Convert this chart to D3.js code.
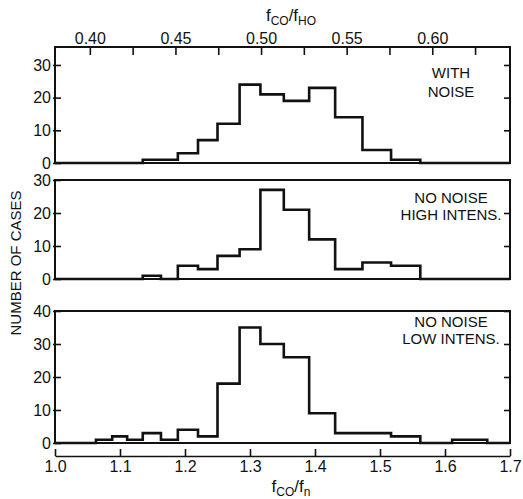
<!DOCTYPE html>
<html>
<head>
<meta charset="utf-8">
<script src="https://cdn.jsdelivr.net/npm/d3@7"></script>
<style>
  html, body { margin: 0; padding: 0; background: #fff; }
  svg { display: block; }
  text { font-family: "Liberation Sans", Arial, sans-serif; fill: #111; }
</style>
</head>
<body>
<svg id="chart" width="523" height="499"></svg>
<script>
// Histogram bin edges, in units of fco/fn (bottom axis)
const binEdges = [1.063, 1.088, 1.111, 1.135, 1.163, 1.189, 1.220, 1.250, 1.284,
                  1.316, 1.352, 1.391, 1.431, 1.473, 1.517, 1.562, 1.611, 1.665];

// Number of cases per bin for each condition
const withNoise      = [0, 0, 0, 1, 1, 3, 7, 12, 24, 21, 19, 23, 14, 4, 1, 0, 0];
const noNoiseHigh    = [0, 0, 0, 1, 0, 4, 3, 7, 9, 27, 21, 12, 3, 5, 4, 0, 0];
const noNoiseLow     = [1, 2, 1, 3, 1, 4, 2, 18, 35, 30, 26, 9, 3, 3, 2, 0, 1];

const panelLabels = [["WITH", "NOISE"], ["NO NOISE", "HIGH INTENS."], ["NO NOISE", "LOW INTENS."]];
const leftTicks   = [[0, 10, 20, 30], [0, 10, 20, 30], [0, 10, 20, 30, 40]];
const rightTicks  = [[10, 20, 30], [10, 20], [10, 20, 30, 40]];
const yMax        = [35.5, 30, 40];

const bottomTicks = [1.0, 1.1, 1.2, 1.3, 1.4, 1.5, 1.6, 1.7];
const topMajor    = [0.40, 0.45, 0.50, 0.55, 0.60];
const topMinor    = [0.425, 0.475, 0.525, 0.575, 0.625];
const fcoRatio    = 2.634; // fco/fn divided by fco/fH0

const svg = d3.select("#chart");
const left = 55, right = 510;
const FONT = "Liberation Sans, Arial, sans-serif";

const x = d3.scaleLinear().domain([1.0, 1.7]).range([left, right]);
const xTop = d3.scaleLinear().domain([1.0 / fcoRatio, 1.7 / fcoRatio]).range([left, right]);

const panels = [
  { data: withNoise,   top: 47,  bottom: 163 },
  { data: noNoiseHigh, top: 180, bottom: 279 },
  { data: noNoiseLow,  top: 311, bottom: 443 }
];

panels.forEach((p, i) => {
  const y = d3.scaleLinear().domain([0, yMax[i]]).range([p.bottom, p.top]);
  const g = svg.append("g");

  // frame
  g.append("rect")
    .attr("x", left).attr("y", p.top)
    .attr("width", right - left).attr("height", p.bottom - p.top)
    .attr("fill", "none").attr("stroke", "#111").attr("stroke-width", 2);

  // left axis: labels outside, ticks crossing the frame
  const ax = g.append("g").attr("transform", `translate(${left},0)`)
    .call(d3.axisLeft(y).tickValues(leftTicks[i]).tickSizeInner(-6).tickSizeOuter(0).tickPadding(4));
  ax.select(".domain").remove();
  ax.selectAll(".tick line").attr("x1", -2).attr("stroke", "#111").attr("stroke-width", 1.6);
  ax.selectAll(".tick text").attr("font-size", 16).attr("font-family", FONT).attr("fill", "#111");

  // right-side inward ticks
  const axr = g.append("g").attr("transform", `translate(${right},0)`)
    .call(d3.axisRight(y).tickValues(rightTicks[i]).tickSizeInner(-6).tickSizeOuter(0).tickFormat(""));
  axr.select(".domain").remove();
  axr.selectAll(".tick line").attr("stroke", "#111").attr("stroke-width", 1.6);

  // histogram outline as a stepped line
  const path = d3.path();
  let prev = 0;
  path.moveTo(x(1.0), y(0));
  p.data.forEach((v, k) => {
    path.lineTo(x(binEdges[k]), y(prev));
    path.lineTo(x(binEdges[k]), y(v));
    prev = v;
  });
  const lastEdge = binEdges[binEdges.length - 1];
  path.lineTo(x(lastEdge), y(prev));
  path.lineTo(x(lastEdge), y(0));
  path.lineTo(x(1.7), y(0));
  g.append("path").attr("d", path.toString())
    .attr("fill", "none").attr("stroke", "#111").attr("stroke-width", 2.6)
    .attr("stroke-linejoin", "miter");

  // condition label
  const lines = panelLabels[i];
  const lx = 451;
  const ly = i === 0 ? 78 : (i === 1 ? 203 : 327);
  const lh = i === 0 ? 19 : 17;
  lines.forEach((t, k) => {
    g.append("text").attr("x", lx).attr("y", ly + k * lh)
      .attr("text-anchor", "middle").attr("font-size", 15).text(t);
  });
});

// top axis, fco/fH0
const topVals = topMajor.concat(topMinor).sort(d3.ascending);
const at = svg.append("g").attr("transform", `translate(0,47)`)
  .call(d3.axisTop(xTop).tickValues(topVals).tickSizeInner(-8).tickSizeOuter(0).tickPadding(3)
    .tickFormat(d => topMajor.some(m => Math.abs(m - d) < 1e-9) ? d3.format(".2f")(d) : ""));
at.select(".domain").remove();
at.selectAll(".tick line").attr("stroke", "#111").attr("stroke-width", 1.6);
at.selectAll(".tick text").attr("font-size", 16).attr("font-family", FONT).attr("fill", "#111");

// bottom axis, fco/fn
const ab = svg.append("g").attr("transform", `translate(0,456)`)
  .call(d3.axisBottom(x).tickValues(bottomTicks).tickSizeInner(-7).tickSizeOuter(0).tickPadding(5)
    .tickFormat(d3.format(".1f")));
ab.select(".domain").attr("stroke", "#111").attr("stroke-width", 1.6);
ab.selectAll(".tick line").attr("stroke", "#111").attr("stroke-width", 1.6);
ab.selectAll(".tick text").attr("font-size", 16).attr("font-family", FONT).attr("fill", "#111");

// axis titles
function ratioTitle(xc, yb, sub1, sub2) {
  const t = svg.append("text").attr("x", xc).attr("y", yb)
    .attr("text-anchor", "middle").attr("font-size", 17);
  t.append("tspan").text("f");
  t.append("tspan").attr("font-size", 12).attr("dy", 4).text(sub1);
  t.append("tspan").attr("dy", -4).text("/f");
  t.append("tspan").attr("font-size", 12).attr("dy", 4).text(sub2);
}
ratioTitle(291, 21, "CO", "HO");
ratioTitle(291, 492, "CO", "n");

svg.append("text")
  .attr("transform", "translate(21,263) rotate(-90)")
  .attr("text-anchor", "middle").attr("font-size", 15)
  .text("NUMBER OF CASES");
</script>
</body>
</html>
